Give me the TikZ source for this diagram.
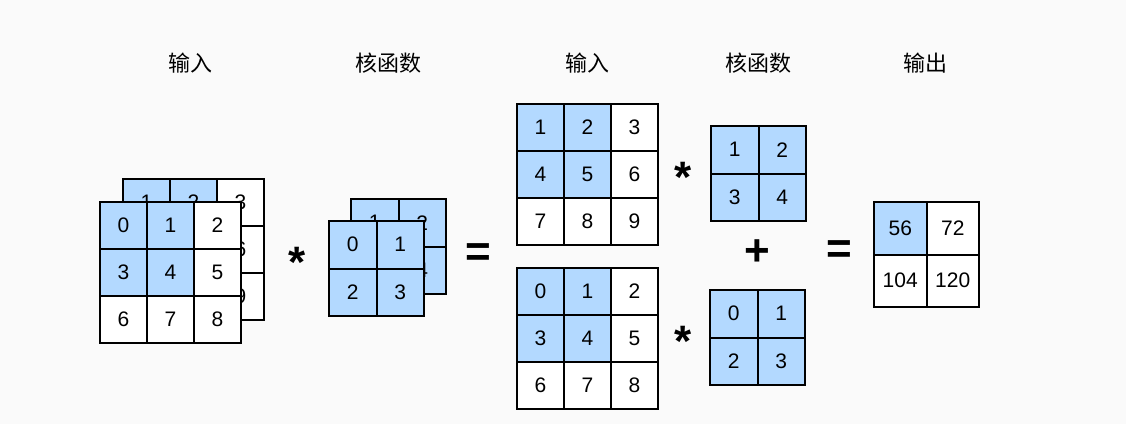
\documentclass[tikz,border=0pt]{standalone}
\usepackage{fontspec}
\setsansfont{Liberation Sans}
\newfontfamily\cjk{Noto Sans CJK SC}
\usetikzlibrary{positioning}
\definecolor{cvblue}{HTML}{B3D9FF}
\definecolor{cvbg}{HTML}{FAFAFA}
\tikzset{
 cell/.style={rectangle, draw=black, fill=white, line width=1pt,
 inner sep=0pt, outer sep=0pt, font=\sffamily\fontsize{10.5}{12}\selectfont},
 hcell/.style={cell, fill=cvblue},
 oplabel/.style={font=\sffamily\bfseries\fontsize{22}{24}\selectfont, inner sep=0pt},
 headlabel/.style={font=\cjk\fontsize{11}{13}\selectfont, inner sep=0pt},
}
% grid of cells: name, left, top, cell size, list row/col/value/style
\newcommand{\cellgrid}[5]{%
  \foreach \row/\col/\val/\sty in {#5}
    {\node[\sty, minimum size=#4*0.5pt] (#1-\row-\col)
       at ({#2+(\col-0.5)*#4},{#3+(\row-0.5)*#4}) {\val};}}

\begin{document}
\begin{tikzpicture}[x=0.5pt, y=-0.5pt]

\fill[cvbg] (0,0) rectangle (1126,424);
\useasboundingbox (0,0) rectangle (1126,424);

% --- Headings ---
\node[headlabel] (h-in)   at (190,63) {输入};
\node[headlabel] (h-ker)  at (388,63) {核函数};
\node[headlabel] (h-in2)  at (587,63) {输入};
\node[headlabel] (h-ker2) at (758,63) {核函数};
\node[headlabel] (h-out)  at (925,63) {输出};

% --- Two-channel input (back, then front) ---
\cellgrid{inb}{123}{179}{47}{1/1/1/hcell, 1/2/2/hcell, 1/3/3/cell,
  2/1/4/hcell, 2/2/5/hcell, 2/3/6/cell, 3/1/7/cell, 3/2/8/cell, 3/3/9/cell}
\cellgrid{inf}{100}{202}{47}{1/1/0/hcell, 1/2/1/hcell, 1/3/2/cell,
  2/1/3/hcell, 2/2/4/hcell, 2/3/5/cell, 3/1/6/cell, 3/2/7/cell, 3/3/8/cell}

\node[oplabel] (star0) at (297,262) {*};

% --- Two-channel kernel ---
\cellgrid{kb}{351}{199}{47.5}{1/1/1/hcell, 1/2/2/hcell, 2/1/3/hcell, 2/2/4/hcell}
\cellgrid{kf}{329}{221}{47.5}{1/1/0/hcell, 1/2/1/hcell, 2/1/2/hcell, 2/2/3/hcell}

\node[oplabel] (eq0) at (478,255) {=};

% --- Per-channel products ---
\cellgrid{ia}{517}{104}{47}{1/1/1/hcell, 1/2/2/hcell, 1/3/3/cell,
  2/1/4/hcell, 2/2/5/hcell, 2/3/6/cell, 3/1/7/cell, 3/2/8/cell, 3/3/9/cell}
\cellgrid{ib}{517}{268}{47}{1/1/0/hcell, 1/2/1/hcell, 1/3/2/cell,
  2/1/3/hcell, 2/2/4/hcell, 2/3/5/cell, 3/1/6/cell, 3/2/7/cell, 3/3/8/cell}

\node[oplabel] (star1) at (683,177) {*};
\node[oplabel] (star2) at (683,341) {*};

\cellgrid{ka}{711}{126}{47.5}{1/1/1/hcell, 1/2/2/hcell, 2/1/3/hcell, 2/2/4/hcell}
\cellgrid{kc}{710}{290}{47.5}{1/1/0/hcell, 1/2/1/hcell, 2/1/2/hcell, 2/2/3/hcell}

\node[oplabel] (plus) at (757,253) {+};
\node[oplabel] (eq1)  at (839,252) {=};

% --- Output ---
\cellgrid{out}{874}{202}{52.5}{1/1/56/hcell, 1/2/72/cell, 2/1/104/cell, 2/2/120/cell}

\end{tikzpicture}
\end{document}
